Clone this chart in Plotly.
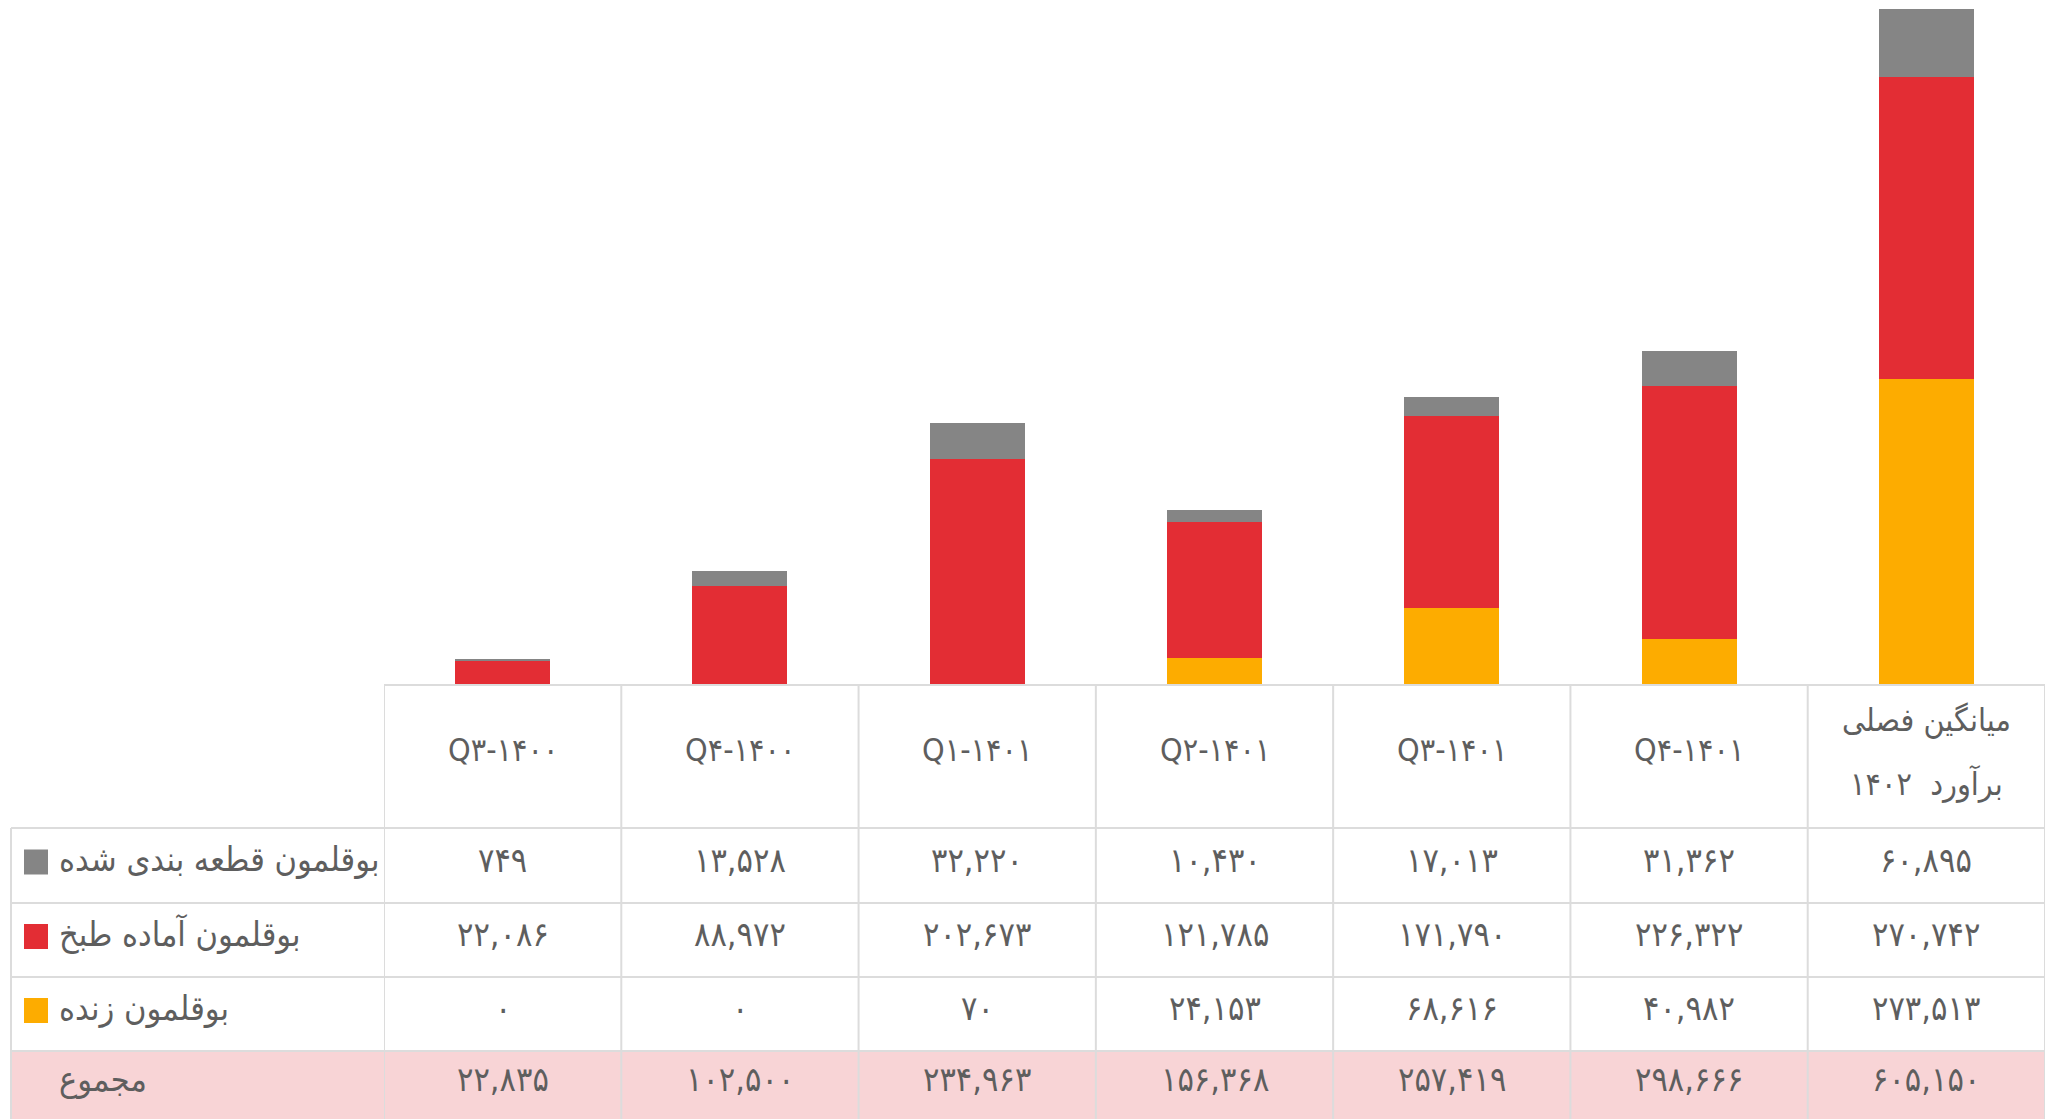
import plotly.graph_objects as go

# ---------------- data ----------------
categories = [
    "Q۳-۱۴۰۰", "Q۴-۱۴۰۰", "Q۱-۱۴۰۱", "Q۲-۱۴۰۱",
    "Q۳-۱۴۰۱", "Q۴-۱۴۰۱", "میانگین فصلی<br>برآورد  ۱۴۰۲",
]
series_names = ["بوقلمون قطعه بندی شده", "بوقلمون آماده طبخ", "بوقلمون زنده"]
cut_values = [749, 13528, 32220, 10430, 17013, 31362, 60895]
ready_values = [22086, 88972, 202673, 121785, 171790, 226322, 270742]
live_values = [0, 0, 70, 24153, 68616, 40982, 273513]
total_label = "مجموع"

# ---------------- style ----------------
W, H = 2053, 1119
colors = {"cut": "#858585", "ready": "#E32D34", "live": "#FDAC00"}
text_color = "#5E5E5E"
grid_color = "#DCDCDC"
pink = "#F8D4D6"
FONT = "DejaVu Sans Condensed, DejaVu Sans, sans-serif"
FS = 34
FS_HEAD = 32

PERSIAN = str.maketrans("0123456789", "۰۱۲۳۴۵۶۷۸۹")


def fa(n):
    return f"{n:,}".translate(PERSIAN)


totals = [a + b + c for a, b, c in zip(cut_values, ready_values, live_values)]

fig = go.Figure()
fig.add_trace(go.Bar(x=categories, y=live_values, name=series_names[2],
                     marker=dict(color=colors["live"], line=dict(width=0))))
fig.add_trace(go.Bar(x=categories, y=ready_values, name=series_names[1],
                     marker=dict(color=colors["ready"], line=dict(width=0))))
fig.add_trace(go.Bar(x=categories, y=cut_values, name=series_names[0],
                     marker=dict(color=colors["cut"], line=dict(width=0))))

# geometry (pixels)
x_left_tab, x_col0, x_right = 11, 384, 2045
y_base = 685
row_edges = [685, 828, 903, 977, 1051, H]


def py(p):
    return 1 - p / H


fig.update_layout(
    width=W, height=H, barmode="stack", bargap=0.6, showlegend=False,
    paper_bgcolor="white", plot_bgcolor="white",
    margin=dict(l=0, r=0, t=0, b=0),
    xaxis=dict(domain=[x_col0 / W, x_right / W], visible=False,
               range=[-0.5, len(categories) - 0.5]),
    yaxis=dict(domain=[py(y_base), 1], visible=False, range=[0, 613200]),
    font=dict(family=FONT, color=text_color, size=FS),
)

shapes = []
annotations = []
n = len(categories)

# pink total row
shapes.append(dict(type="rect", xref="paper", yref="paper",
                   x0=x_left_tab / W, x1=x_right / W,
                   y0=py(row_edges[5]), y1=py(row_edges[4]),
                   fillcolor=pink, line=dict(width=0), layer="below"))

# horizontal lines
shapes.append(dict(type="line", xref="paper", yref="paper",
                   x0=x_col0 / W, x1=x_right / W, y0=py(row_edges[0]), y1=py(row_edges[0]),
                   line=dict(color=grid_color, width=2)))
for e in row_edges[1:5]:
    shapes.append(dict(type="line", xref="paper", yref="paper",
                       x0=x_left_tab / W, x1=x_right / W, y0=py(e), y1=py(e),
                       line=dict(color=grid_color, width=2)))
# vertical lines
for i in range(n + 1):
    shapes.append(dict(type="line", xref="x", yref="paper",
                       x0=i - 0.5, x1=i - 0.5, y0=py(row_edges[0]), y1=0,
                       line=dict(color=grid_color, width=2)))
shapes.append(dict(type="line", xref="paper", yref="paper",
                   x0=x_left_tab / W, x1=x_left_tab / W, y0=py(row_edges[1]), y1=0,
                   line=dict(color=grid_color, width=2)))

# header labels
for i, c in enumerate(categories):
    lines = c.split("<br>")
    if len(lines) == 1:
        annotations.append(dict(x=i, y=py(750), xref="x", yref="paper", text=c,
                                showarrow=False, xanchor="center", yanchor="middle",
                                font=dict(size=FS_HEAD)))
    else:
        for k, ln in enumerate(lines):
            annotations.append(dict(x=i, y=py(720 + 63 * k), xref="x", yref="paper",
                                    text=ln, showarrow=False,
                                    xanchor="center", yanchor="middle",
                                    font=dict(size=FS_HEAD)))

# data rows
rows = [
    (series_names[0], colors["cut"], cut_values),
    (series_names[1], colors["ready"], ready_values),
    (series_names[2], colors["live"], live_values),
    (total_label, None, totals),
]
for r, (label, col, vals) in enumerate(rows):
    yc = (row_edges[r + 1] + row_edges[r + 2]) / 2 - 6
    if col:
        shapes.append(dict(type="rect", xref="paper", yref="paper",
                           x0=24 / W, x1=48 / W, y0=py(yc + 15), y1=py(yc - 10),
                           fillcolor=col, line=dict(width=0)))
    annotations.append(dict(x=57 / W, y=py(yc), xref="paper", yref="paper",
                            text=label, showarrow=False,
                            xanchor="left", yanchor="middle"))
    for i, v in enumerate(vals):
        annotations.append(dict(x=i, y=py(yc), xref="x", yref="paper", text=fa(v),
                                showarrow=False, xanchor="center", yanchor="middle"))

fig.update_layout(shapes=shapes, annotations=annotations)
fig.write_html(
    "out.html",
    config={"displayModeBar": False},
    post_script="document.body.style.margin='0';document.body.style.overflow='hidden';",
)
